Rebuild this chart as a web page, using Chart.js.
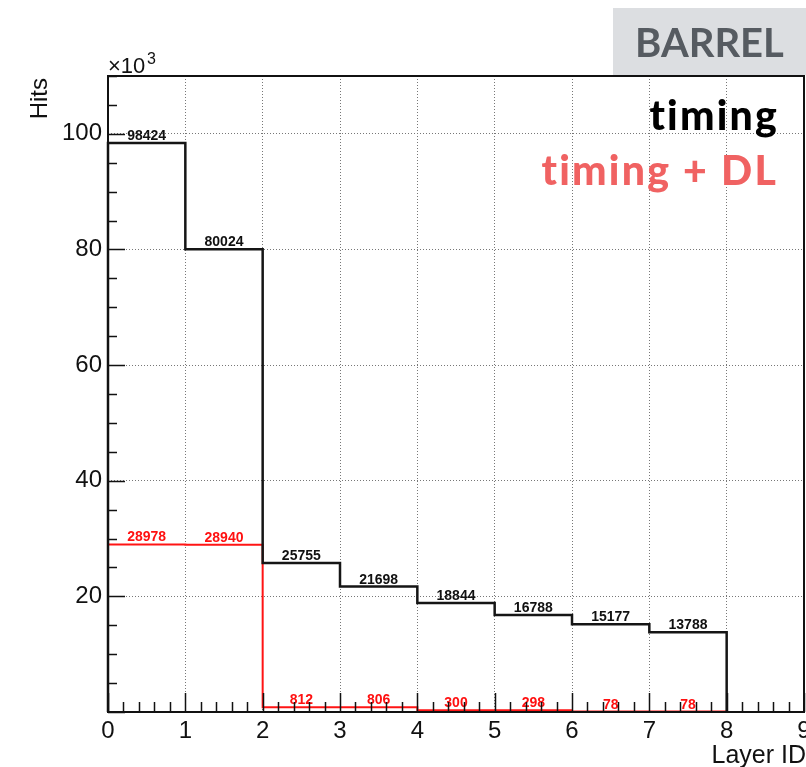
<!DOCTYPE html>
<html>
<head>
<meta charset="utf-8">
<script src="https://cdn.jsdelivr.net/npm/chart.js@4/dist/chart.umd.min.js"></script>
<style>
  html, body { margin: 0; padding: 0; background: #fff; }
  canvas { display: block; }
</style>
</head>
<body>
<canvas id="graphique" width="806" height="767"></canvas>
<script>
// bin edges (Layer ID) and hits per layer
let layerEdges = [0, 1, 2, 3, 4, 5, 6, 7, 8];
let timingHits = [98424, 80024, 25755, 21698, 18844, 16788, 15177, 13788];
let timingDLHits = [28978, 28940, 812, 806, 300, 298, 78, 78];

let xTicks = [0, 1, 2, 3, 4, 5, 6, 7, 8, 9];
let yTicks = [0, 20000, 40000, 60000, 80000, 100000];

// histogram outline points : starts at 0, one point per bin edge, back to 0
function contour(vals) {
    var pts = [{ x: layerEdges[0], y: 0 }];
    vals.forEach(function (v, i) { pts.push({ x: layerEdges[i], y: v }); });
    var last = layerEdges[vals.length];
    pts.push({ x: last, y: vals[vals.length - 1] });
    pts.push({ x: last, y: 0 });
    return pts;
}

// cadre, graduations, textes
var decor = {
    id: 'decor',
    beforeDraw: function (chart) {
        var c = chart.ctx;
        c.save();
        c.fillStyle = '#dcdee1';
        c.fillRect(613, 8, 193, 67);
        c.fillStyle = '#565b61';
        c.font = 'bold 40px Lato';
        c.textAlign = 'left';
        c.textBaseline = 'alphabetic';
        c.fillText('BARREL', 635, 57);
        c.restore();
    },
    afterDraw: function (chart) {
        var c = chart.ctx;
        var a = chart.chartArea;
        var xs = chart.scales.x, ys = chart.scales.y;
        c.save();
        c.strokeStyle = '#111';
        c.lineWidth = 1.5;
        // petites graduations x (pas 0.2)
        c.beginPath();
        for (var i = 0; i <= 45; i++) {
            var px = Math.round(xs.getPixelForValue(i * 0.2)) + 0.5;
            var len = (i % 5 === 0) ? 19 : 10;
            c.moveTo(px, a.bottom);
            c.lineTo(px, a.bottom - len);
        }
        // graduations y (pas 5000)
        for (var j = 0; j <= 22; j++) {
            var py = Math.round(ys.getPixelForValue(j * 5000)) + 0.5;
            var l = (j % 4 === 0) ? 17 : 9;
            c.moveTo(a.left, py);
            c.lineTo(a.left + l, py);
        }
        c.stroke();
        // cadre
        c.lineWidth = 2;
        c.strokeStyle = '#111';
        c.strokeRect(a.left, a.top, a.right - a.left, a.bottom - a.top);

        // titres des axes
        c.fillStyle = '#111';
        c.font = '25px "Liberation Sans"';
        c.textAlign = 'right';
        c.fillText('Layer ID', 806, 763);
        c.save();
        c.translate(47, 78);
        c.rotate(-Math.PI / 2);
        c.textAlign = 'right';
        c.font = '24px "Liberation Sans"';
        c.fillText('Hits', 0, 0);
        c.restore();
        c.textAlign = 'left';
        c.font = '22px "Liberation Sans"';
        c.fillText('\u00d710', 108, 73);
        c.font = '16px "Liberation Sans"';
        c.fillText('3', 147, 64);

        // legende
        c.textAlign = 'right';
        c.textRendering = 'optimizeSpeed';
        c.letterSpacing = '2.2px';
        c.font = '900 41px Lato';
        c.fillStyle = '#000';
        c.fillText('timing', 779, 130);
        c.fillStyle = '#f06262';
        c.fillText('timing + DL', 778, 185);
        c.restore();
    },
    afterDatasetsDraw: function (chart) {
        var c = chart.ctx;
        var xs = chart.scales.x, ys = chart.scales.y;
        c.save();
        c.textAlign = 'center';
        c.textBaseline = 'alphabetic';
        c.font = 'bold 14px "Liberation Sans"';
        timingHits.forEach(function (v, i) {
            c.fillStyle = '#111';
            c.fillText(String(v), xs.getPixelForValue(layerEdges[i] + 0.5), ys.getPixelForValue(v) - 3);
        });
        timingDLHits.forEach(function (v, i) {
            c.fillStyle = '#ff1010';
            c.fillText(String(v), xs.getPixelForValue(layerEdges[i] + 0.5), ys.getPixelForValue(v) - 3);
        });
        c.restore();
    }
};

function interieur(max) {
    return function (ctx) {
        var v = ctx.tick ? ctx.tick.value : 0;
        return (v > 0 && v < max) ? '#777' : 'rgba(0,0,0,0)';
    };
}

var ctx1 = document.getElementById('graphique').getContext('2d');
var graphique = new Chart(ctx1, {
    type: 'line',
    data: {
        datasets: [{
            label: 'timing',
            data: contour(timingHits),
            borderColor: '#151515',
            borderWidth: 2.5,
            stepped: true,
            pointRadius: 0,
            fill: false,
            clip: false
        }, {
            label: 'timing + DL',
            data: contour(timingDLHits),
            borderColor: 'rgb(255, 20, 20)',
            borderWidth: 2,
            stepped: true,
            pointRadius: 0,
            fill: false,
            clip: false
        }]
    },
    options: {
        responsive: false,
        animation: false,
        layout: { padding: { left: 0, top: 76, right: 2, bottom: 0 } },
        plugins: { legend: { display: false }, tooltip: { enabled: false } },
        scales: {
            x: {
                type: 'linear',
                min: 0,
                max: 9,
                afterBuildTicks: function (s) { s.ticks = xTicks.map(function (v) { return { value: v }; }); },
                afterFit: function (s) { s.height = 55; s.paddingLeft = 0; s.paddingRight = 0; },
                grid: { color: interieur(9), lineWidth: 1, drawTicks: false },
                border: { display: false, dash: [1, 2] },
                ticks: {
                    color: '#111',
                    padding: 5,
                    maxRotation: 0,
                    font: { family: 'Liberation Sans', size: 24 }
                }
            },
            y: {
                min: 0,
                max: 110000,
                afterBuildTicks: function (s) { s.ticks = yTicks.map(function (v) { return { value: v }; }); },
                afterFit: function (s) { s.width = 108; s.paddingTop = 0; s.paddingBottom = 0; },
                grid: { color: interieur(110000), lineWidth: 1, drawTicks: false },
                border: { display: false, dash: [1, 2] },
                ticks: {
                    color: '#111',
                    padding: 6,
                    font: { family: 'Liberation Sans', size: 24 },
                    callback: function (v) { return v === 0 ? '' : String(v / 1000); }
                }
            }
        }
    },
    plugins: [decor]
});
</script>
</body>
</html>
